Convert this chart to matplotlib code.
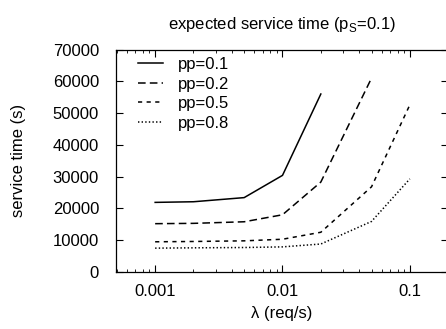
import matplotlib
matplotlib.use("Agg")
import matplotlib.pyplot as plt
from matplotlib.ticker import FixedLocator, FixedFormatter, LogLocator, NullFormatter

plt.rcParams["font.family"] = ["Liberation Sans", "DejaVu Sans"]
plt.rcParams["mathtext.fontset"] = "custom"
plt.rcParams["mathtext.rm"] = "Liberation Sans"
plt.rcParams["lines.scale_dashes"] = False

# arrival rate (req/s)
rates = [0.001, 0.002, 0.005, 0.01, 0.02, 0.05, 0.1]

# expected service time (s) per pp value
pp01 = [21900, 22100, 23400, 30400, 56000]
pp02 = [15200, 15300, 15800, 18000, 28300, 61000]
pp05 = [9500, 9600, 9800, 10300, 12500, 26800, 52600]
pp08 = [7500, 7600, 7700, 7900, 8800, 15900, 29300]

series = [
    ("pp=0.1", pp01, (None, None)),
    ("pp=0.2", pp02, (5.5, 3.0)),
    ("pp=0.5", pp05, (3.0, 3.2)),
    ("pp=0.8", pp08, (1.0, 1.6)),
]

fig = plt.figure(figsize=(4.46, 3.29), dpi=100)
# right edge of the axes sits just past the image border, as in the source
ax = fig.add_axes([0.2594, 0.1733, 0.7455, 0.6762])

for label, vals, dash in series:
    line, = ax.plot(rates[:len(vals)], vals, color="black", lw=1.1, label=label)
    if dash[0] is not None:
        line.set_dashes(dash)

ax.set_xscale("log")
ax.set_xlim(0.00049, 0.2)
ax.set_ylim(0, 70000)
ax.set_yticks(range(0, 70001, 10000))
ax.xaxis.set_major_locator(FixedLocator([0.001, 0.01, 0.1]))
ax.xaxis.set_major_formatter(FixedFormatter(["0.001", "0.01", "0.1"]))
ax.xaxis.set_minor_locator(LogLocator(base=10, subs=range(2, 10)))
ax.xaxis.set_minor_formatter(NullFormatter())

ax.tick_params(which="both", direction="in", top=True, right=True, labelsize=12)
ax.tick_params(axis="y", pad=12)
ax.tick_params(axis="x", pad=9)
ax.tick_params(which="major", length=5, width=0.8)
ax.tick_params(which="minor", length=2.5, width=0.6)
for s in ax.spines.values():
    s.set_linewidth(0.9)

ax.set_xlabel("λ (req/s)", fontsize=12, labelpad=5)
ax.set_ylabel("service time (s)", fontsize=12, labelpad=19)
ax.set_title(r"expected service time (p$_\mathregular{S}$=0.1)", fontsize=12, pad=15)

ax.legend(loc="upper left", bbox_to_anchor=(0.066, 0.965), frameon=False, fontsize=12,
          handlelength=1.5, handletextpad=0.9, labelspacing=0.27,
          borderaxespad=0, borderpad=0)

fig.savefig("out.png", dpi=100)
